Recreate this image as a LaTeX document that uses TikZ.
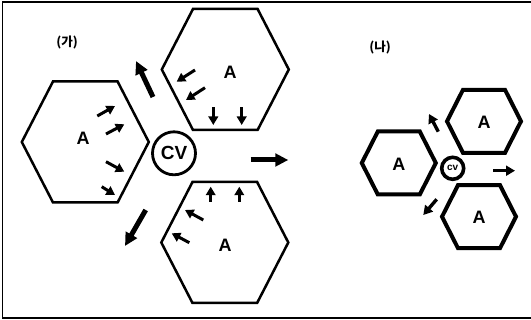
\documentclass[tikz,border=0pt]{standalone}
\usepackage{fontspec}
\setsansfont{Liberation Sans}
\newfontfamily\kofont{Noto Sans CJK KR}
\usetikzlibrary{arrows.meta, positioning}

\begin{document}
\begin{tikzpicture}[%
  x=1pt, y=-1pt,%
  hexline/.style={draw=black, line width=2.5pt, line join=miter},%
  hexthick/.style={draw=black, line width=4pt, line join=miter},%
  cell/.style={font=\sffamily\bfseries\fontsize{18}{18}\selectfont, inner sep=0pt},%
  vacuole/.style={circle, draw=black, line width=2.8pt, minimum size=43pt, inner sep=0pt, font=\sffamily\bfseries\fontsize{19}{19}\selectfont},%
  smallvac/.style={circle, draw=black, line width=3.6pt, minimum size=22pt, inner sep=0pt, font=\sffamily\bfseries\fontsize{10}{10}\selectfont},%
  panel/.style={font=\kofont\bfseries\fontsize{12.5}{12.5}\selectfont, inner sep=0pt},%
  bigarrow/.style={-{Triangle[length=13pt, width=12.5pt]}, line width=5pt},%
  midarrow/.style={-{Triangle[length=9pt, width=10pt]}, line width=3.4pt},%
  smallarrow/.style={-{Triangle[length=8.5pt, width=9.5pt]}, line width=3pt}%
]
  \useasboundingbox (0,0) rectangle (531,320);
  % frame
  \draw[line width=1.4pt] (531,2) -- (2.5,2) -- (2.5,318) -- (531,318);

  % (ga): cells round a large vacuole
  \foreach \x/\y in {85.3/142, 225.3/69.5, 224.8/242.5}
    \draw[hexline] (\x,\y) +(-63.5,0) -- +(-32.3,-60.5) -- +(32.3,-60.5) -- +(63.5,0) -- +(32.3,60.5) -- +(-32.3,60.5) -- cycle;
  \node[panel] (ga) at (67,43) {(가)};
  \node[cell] (al) at (83,138) {A};
  \node[cell] (at) at (230,72) {A};
  \node[cell] (ab) at (225,245) {A};
  \node[vacuole] (cv) at (174,153.3) {CV};

  \draw[bigarrow] (153,97) -- (136,61);
  \draw[bigarrow] (145.7,210) -- (125,246);
  \draw[bigarrow] (250.7,160) -- (288.3,160);

  \draw[smallarrow] (97.3,116) -- (115,106);
  \draw[smallarrow] (106,134) -- (124.3,124.3);
  \draw[smallarrow] (106,161.7) -- (124.3,171.7);
  \draw[smallarrow] (101.7,186.7) -- (115,195);
  \draw[smallarrow] (195,70) -- (176.7,81.7);
  \draw[smallarrow] (205,87.7) -- (186,100);
  \draw[smallarrow] (213.3,107.3) -- (213.3,125);
  \draw[smallarrow] (241.7,107.3) -- (241.7,125);
  \draw[smallarrow] (210.7,201.7) -- (210.7,186.7);
  \draw[smallarrow] (239.3,201.7) -- (239.3,186.7);
  \draw[smallarrow] (203.3,220) -- (185,210);
  \draw[smallarrow] (189.3,242.7) -- (171.7,233.3);

  % (na): small vacuole
  \foreach \x/\y in {398.8/163, 484/121.3, 479/216.7}
    \draw[hexthick] (\x,\y) +(-37,0) -- +(-21,-31.5) -- +(21,-31.5) -- +(37,0) -- +(21,31.5) -- +(-21,31.5) -- cycle;
  \node[panel] (na) at (380,47.3) {(나)};
  \node[cell] (bl) at (398.8,164) {A};
  \node[cell] (bt) at (484,122.3) {A};
  \node[cell] (bb) at (479,217.7) {A};
  \node[smallvac] (cv2) at (452.7,168.3) {cv};

  \draw[midarrow] (438.3,131.7) -- (429,114);
  \draw[midarrow] (436.7,199.3) -- (423.3,215);
  \draw[midarrow] (493.3,170.7) -- (515,170.7);
\end{tikzpicture}
\end{document}
